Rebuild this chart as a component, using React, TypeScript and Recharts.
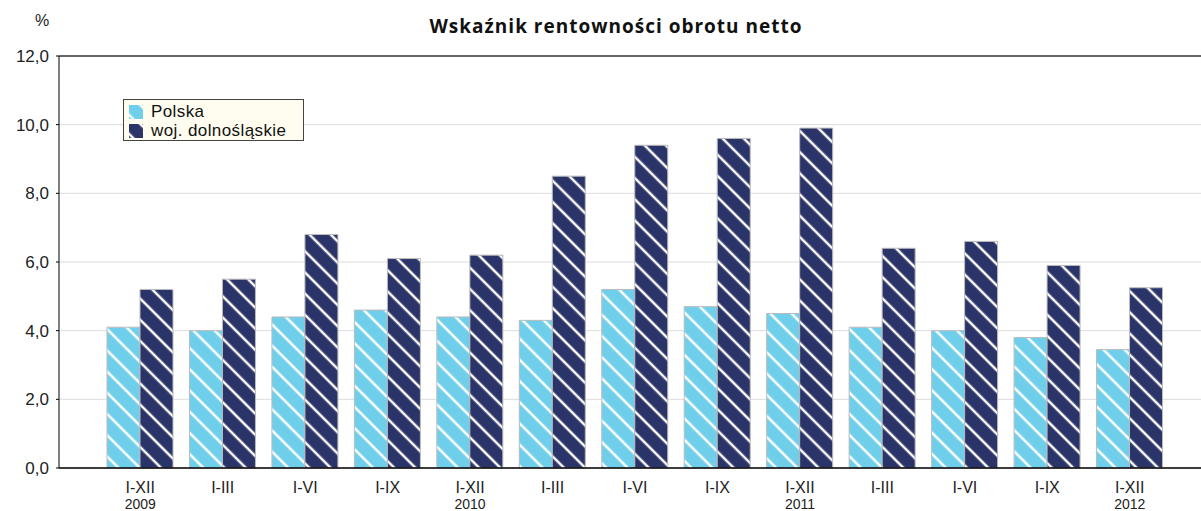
import React from 'react';
import {
  BarChart,
  Bar,
  XAxis,
  YAxis,
  CartesianGrid,
  ReferenceLine,
} from 'recharts';

const periods = ['I-XII', 'I-III', 'I-VI', 'I-IX', 'I-XII', 'I-III', 'I-VI', 'I-IX', 'I-XII', 'I-III', 'I-VI', 'I-IX', 'I-XII'];
const years = ['2009', '', '', '', '2010', '', '', '', '2011', '', '', '', '2012'];
const polska = [4.1, 4.0, 4.4, 4.6, 4.4, 4.3, 5.2, 4.7, 4.5, 4.1, 4.0, 3.8, 3.45];
const dolnoslaskie = [5.2, 5.5, 6.8, 6.1, 6.2, 8.5, 9.4, 9.6, 9.9, 6.4, 6.6, 5.9, 5.25];
const yTicks = [0, 2, 4, 6, 8, 10, 12];

const LIGHT = '#6fcfeb';
const DARK = '#2b3468';
const FONT = 'Liberation Sans, Arial, sans-serif';

const data = periods.map((p, i) => ({
  key: `${i}`,
  period: p,
  year: years[i],
  polska: polska[i],
  dolno: dolnoslaskie[i],
}));

const XTick = ({ x, y, payload }: any) => {
  const row = data[payload.index];
  return (
    <g transform={`translate(${x},${y})`}>
      <text x={0} y={17} textAnchor="middle" fontSize={16} fill="#222" fontFamily={FONT}>
        {row.period}
      </text>
      <text x={0} y={33} textAnchor="middle" fontSize={14} fill="#222" fontFamily={FONT}>
        {row.year}
      </text>
    </g>
  );
};

const Swatch = ({ id }: { id: string }) => (
  <svg width={14} height={14} style={{ display: 'block' }}>
    <rect x={0} y={0} width={14} height={14} fill={`url(#${id})`} />
  </svg>
);

export default function App() {
  return (
    <div style={{ position: 'absolute', left: 0, top: 0, width: 1201, height: 511, background: '#fff', fontFamily: FONT, overflow: 'hidden' }}>
      <div style={{ position: 'absolute', left: 35, top: 12, fontSize: 16, color: '#222' }}>%</div>
      <div
        style={{
          position: 'absolute',
          left: 0,
          width: 1232,
          top: 13,
          textAlign: 'center',
          fontFamily: 'Open Sans',
          fontWeight: 700,
          fontSize: 19,
          letterSpacing: 1,
          color: '#111',
        }}
      >
        Wskaźnik rentowności obrotu netto
      </div>
      <BarChart
        width={1201}
        height={511}
        data={data}
        margin={{ top: 56, right: 0, left: 0, bottom: 0 }}
        barGap={0}
        barSize={33}
      >
        <defs>
          <pattern id="hatchLight" patternUnits="userSpaceOnUse" width={15} height={15} patternTransform="rotate(45)">
            <rect width={15} height={15} fill={LIGHT} />
            <line x1={0} y1={7} x2={15} y2={7} stroke="#fff" strokeWidth={2.5} />
          </pattern>
          <pattern id="hatchDark" patternUnits="userSpaceOnUse" width={15} height={15} patternTransform="rotate(45)">
            <rect width={15} height={15} fill={DARK} />
            <line x1={0} y1={7} x2={15} y2={7} stroke="#fff" strokeWidth={2.5} />
          </pattern>
        </defs>
        <CartesianGrid vertical={false} stroke="#dcdcdc" />
        <XAxis
          dataKey="key"
          interval={0}
          padding={{ left: 40, right: 30 }}
          axisLine={{ stroke: '#000', strokeWidth: 1.5 }}
          tickLine={false}
          tick={<XTick />}
          height={43}
        />
        <XAxis
          xAxisId="top"
          orientation="top"
          dataKey="key"
          interval={0}
          padding={{ left: 40, right: 30 }}
          axisLine={false}
          tickLine={{ stroke: '#333' }}
          tickSize={-3}
          tick={false}
          height={0}
        />
        <YAxis
          domain={[0, 12]}
          ticks={yTicks}
          width={59}
          axisLine={{ stroke: '#000' }}
          tickLine={{ stroke: '#000' }}
          tickSize={3}
          tickMargin={7}
          tickFormatter={(v: number) => v.toFixed(1).replace('.', ',')}
          tick={{ fontSize: 17, fill: '#222', fontFamily: FONT }}
        />
        <ReferenceLine y={12} stroke="#666" strokeWidth={2} />
        <Bar dataKey="polska" fill="url(#hatchLight)" stroke="#bbb" strokeWidth={1} isAnimationActive={false} />
        <Bar dataKey="dolno" fill="url(#hatchDark)" stroke="#bbb" strokeWidth={1} isAnimationActive={false} />
      </BarChart>
      <div
        style={{
          position: 'absolute',
          left: 123,
          top: 99,
          width: 181,
          height: 42,
          boxSizing: 'border-box',
          background: '#fffdf0',
          border: '1px solid #444',
          padding: '2px 0 0 5px',
          fontSize: 17,
          letterSpacing: 0.4,
          color: '#111',
        }}
      >
        <div style={{ display: 'flex', alignItems: 'center', gap: 8, height: 19 }}>
          <Swatch id="hatchLight" />
          <span>Polska</span>
        </div>
        <div style={{ display: 'flex', alignItems: 'center', gap: 8, height: 19 }}>
          <Swatch id="hatchDark" />
          <span>woj. dolnośląskie</span>
        </div>
      </div>
    </div>
  );
}
